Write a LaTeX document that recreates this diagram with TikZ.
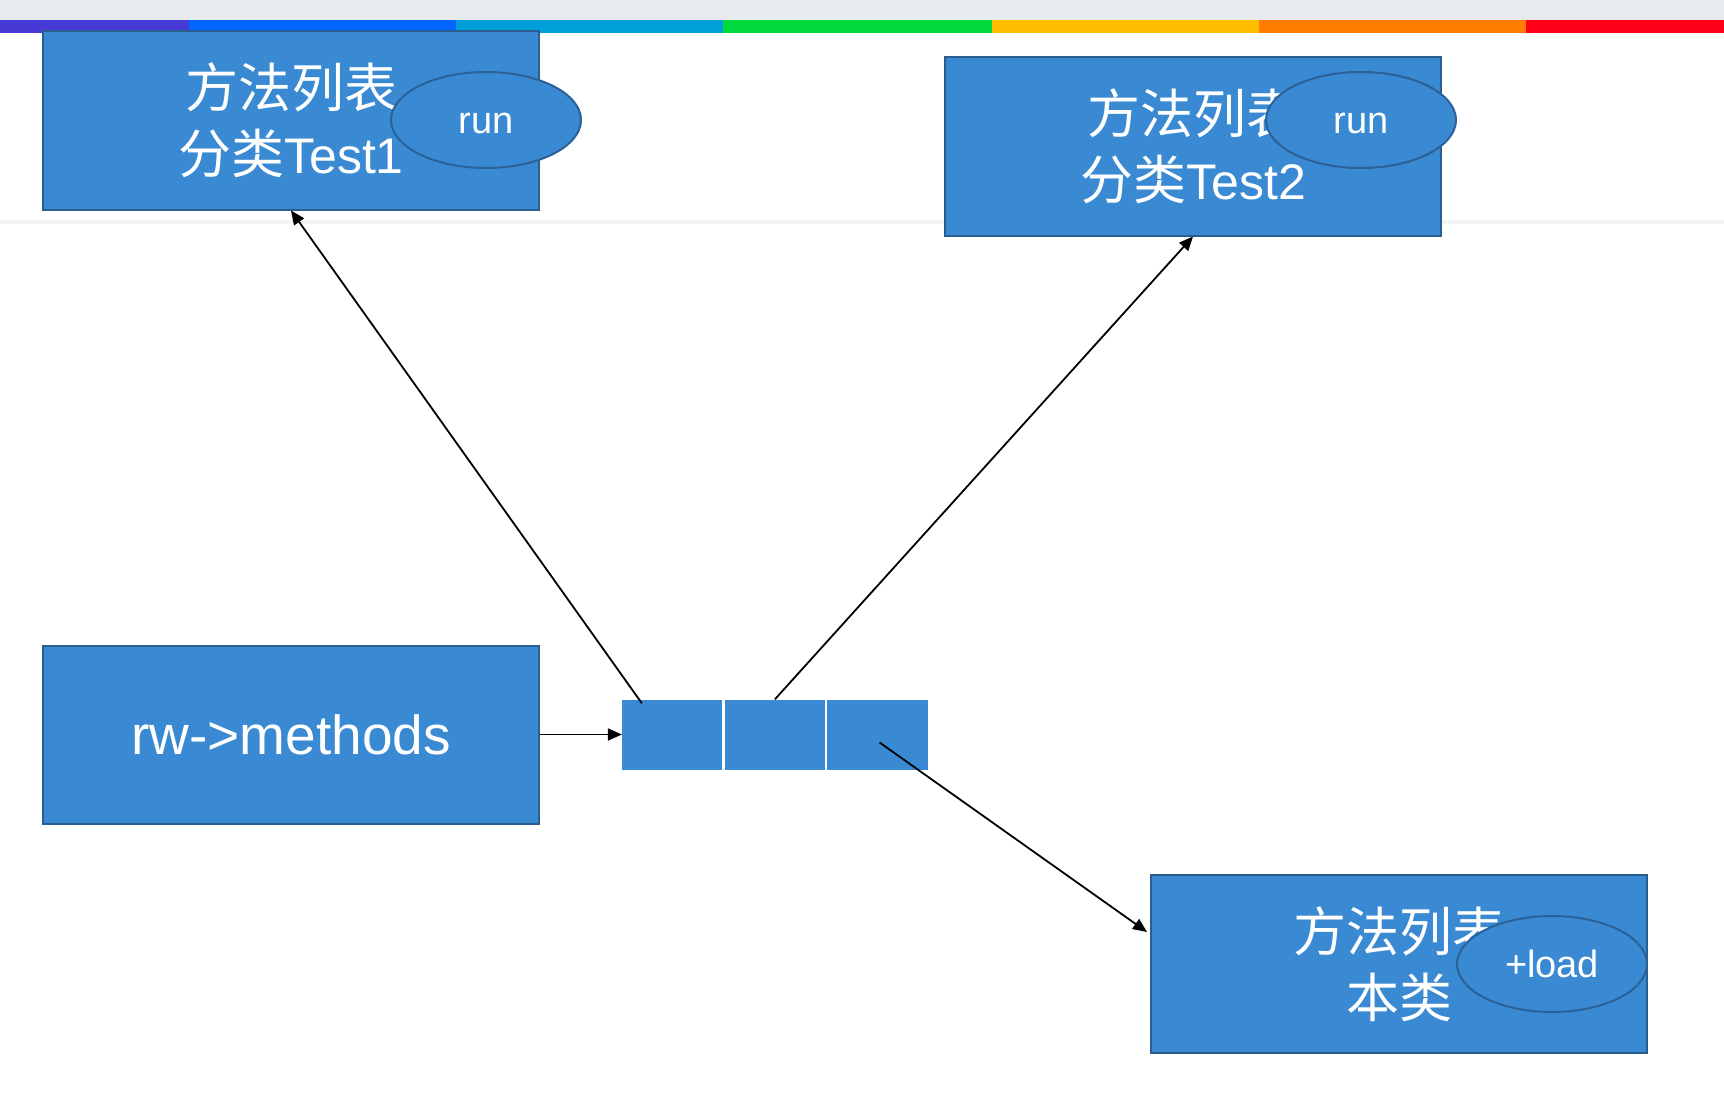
\documentclass[tikz,border=0pt]{standalone}
\usepackage{fontspec}
\setmainfont{Liberation Sans}
\newfontfamily\cjk[Scale=1.06]{Noto Sans CJK SC}
\usetikzlibrary{shapes.geometric,arrows.meta,positioning}
\definecolor{boxblue}{HTML}{3989D3}
\definecolor{boxedge}{HTML}{2A5E91}
\definecolor{ovaledge}{HTML}{2B6196}
\definecolor{topgray}{HTML}{E8EBEE}
\definecolor{pagegray}{HTML}{F4F4F4}
\definecolor{bar1}{HTML}{4739D6}
\definecolor{bar2}{HTML}{0066FF}
\definecolor{bar3}{HTML}{009FDA}
\definecolor{bar4}{HTML}{00DA3C}
\definecolor{bar5}{HTML}{FFBF00}
\definecolor{bar6}{HTML}{FF7D00}
\definecolor{bar7}{HTML}{FF0019}
\begin{document}
\begin{tikzpicture}[x=1pt,y=-1pt,>={Triangle[length=14pt,width=12pt]}]
 \tikzstyle{box} = [draw=boxedge,line width=2pt,fill=boxblue,text=white,minimum width=496pt,minimum height=178pt,inner sep=0,align=center,font=\fontsize{50}{66}\selectfont]
 \tikzstyle{oval} = [ellipse,draw=ovaledge,line width=2pt,fill=boxblue,text=white,minimum width=190pt,minimum height=96pt,inner sep=0,text height=27pt,font=\fontsize{38}{40}\selectfont]
 \tikzstyle{cell} = [fill=boxblue,minimum width=100.3pt,minimum height=70pt,inner sep=0]
 \tikzstyle{link} = [->,line width=1.8pt]

 \useasboundingbox (0,0) rectangle (1724,1108);

% Window top and page break
 \fill[topgray] (0,0) rectangle (1724,20);
 \foreach \a/\b/\c in {0/189/bar1,189/456/bar2,456/723/bar3,723/992/bar4,992/1259/bar5,1259/1526/bar6,1526/1724/bar7}
  \fill[\c] (\a,20) rectangle (\b,33);
 \fill[pagegray] (0,220) rectangle (1724,224);

% Method lists
 \node[box] (b1) at (291,120.5) {{\cjk 方法列表}\\{\cjk 分类}Test1};
 \node[box] (b2) at (1193,146.5) {{\cjk 方法列表}\\{\cjk 分类}Test2};
 \node[box,font=\fontsize{55}{66}\selectfont] (b3) at (291,734.5) {rw->methods};
 \node[box] (b4) at (1399,964) {{\cjk 方法列表}\\{\cjk 本类}};

 \node[oval] (e1) at (486,120) {run};
 \node[oval] (e2) at (1361,120) {run};
 \node[oval] (e3) at (1552,964) {+load};

% Array
 \node[cell] (c1) at (672.2,734.5) {};
 \node[cell,right=2pt of c1] (c2) {};
 \node[cell,right=2pt of c2] (c3) {};

% Arrows
 \draw[link] (b3.east) -- (c1.west);
 \draw[link] ([shift={(20,4)}]c1.north west) -- (b1.south);
 \draw[link] (c2.north) -- (b2.south);
 \draw[link] ([shift={(2,8)}]c3.center) -- ([shift={(-3,-32)}]b4.west);

\end{tikzpicture}
\end{document}
